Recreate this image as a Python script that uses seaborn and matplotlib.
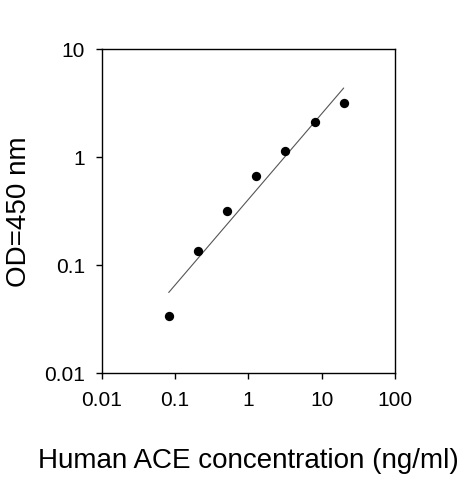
import numpy as np
import pandas as pd
import matplotlib
matplotlib.use("Agg")
import matplotlib.pyplot as plt
import seaborn as sns

# standard curve, 2.5 fold dilutions
conc = [0.082, 0.205, 0.512, 1.28, 3.2, 8.0, 20.0]
od = [0.034, 0.135, 0.318, 0.676, 1.145, 2.14, 3.18]

# fitted line (end points)
fit_x = [0.082, 20.0]
fit_y = [0.056, 4.38]

x_ticks = [0.01, 0.1, 1, 10, 100]
x_labels = ["0.01", "0.1", "1", "10", "100"]
y_ticks = [0.01, 0.1, 1, 10]
y_labels = ["0.01", "0.1", "1", "10"]

df = pd.DataFrame({"conc": conc, "od": od})
fit = pd.DataFrame({"x": fit_x, "y": fit_y})

sns.set_style("ticks")
plt.rcParams["font.family"] = ["Liberation Sans", "DejaVu Sans"]

fig = plt.figure(figsize=(4.63, 4.8), dpi=100)
ax = fig.add_axes([0.2197, 0.2223, 0.6333, 0.6750])

sns.lineplot(x="x", y="y", data=fit, ax=ax, color="#555555", linewidth=0.8)
sns.scatterplot(x="conc", y="od", data=df, ax=ax, color="black", s=45,
                edgecolor="black", linewidth=0, zorder=3)

ax.set_xscale("log")
ax.set_yscale("log")
ax.set_xlim(0.01, 100)
ax.set_ylim(0.01, 10)
ax.set_xticks(x_ticks)
ax.set_xticklabels(x_labels)
ax.set_yticks(y_ticks)
ax.set_yticklabels(y_labels)
ax.minorticks_off()
ax.tick_params(axis="both", direction="out", length=4, width=1, color="black",
               labelsize=15, labelcolor="black")
ax.tick_params(axis="x", pad=9)
ax.tick_params(axis="y", pad=8)

for side in ["left", "right", "top", "bottom"]:
    ax.spines[side].set_visible(True)
    ax.spines[side].set_color("black")
    ax.spines[side].set_linewidth(1)

ax.set_xlabel("Human ACE concentration (ng/ml)", fontsize=20, labelpad=27,
              color="black")
ax.set_ylabel("OD=450 nm", fontsize=20, labelpad=9, color="black")

fig.savefig("out.png", dpi=100)
